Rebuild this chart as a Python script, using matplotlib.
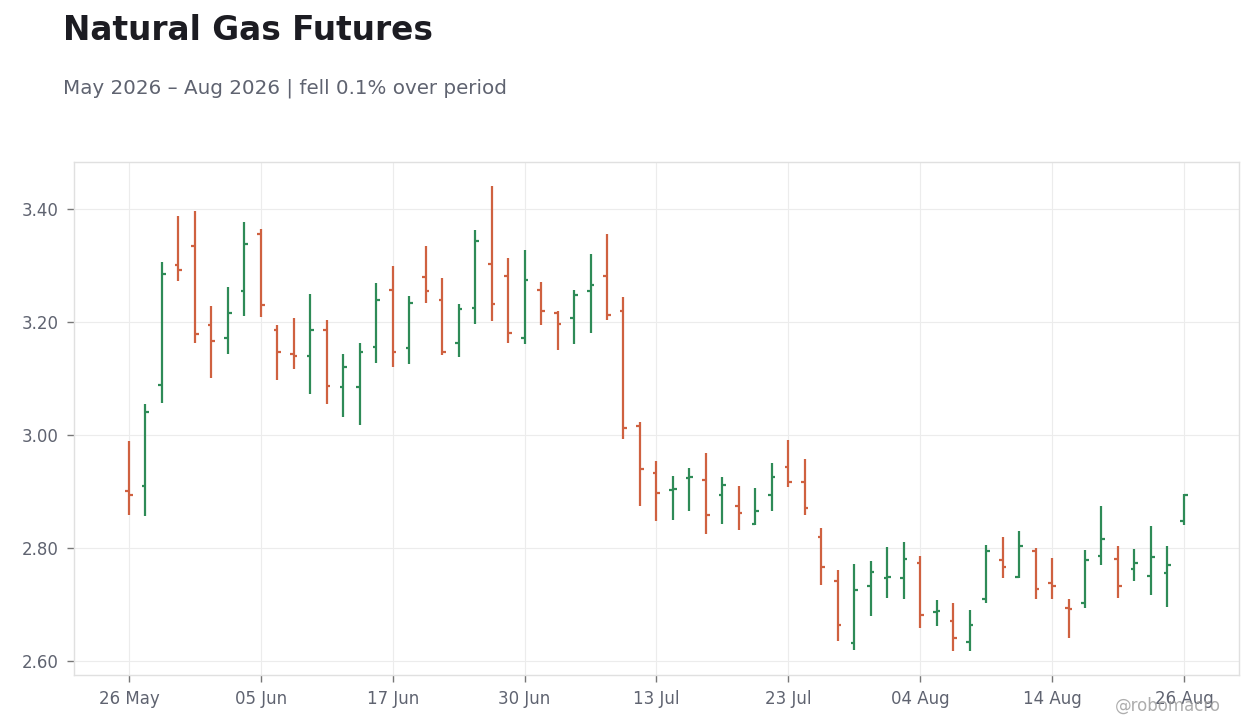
import numpy as np
import pandas as pd
import matplotlib
matplotlib.use("Agg")
import matplotlib.pyplot as plt

# trading days 26 May 2026 - 26 Aug 2026 (Juneteenth and 3 Jul closed)
dates = pd.bdate_range("2026-05-26", "2026-08-26", freq="C",
                       holidays=["2026-06-19", "2026-07-03"])

opens = [2.901, 2.910, 3.089, 3.300, 3.335, 3.195, 3.172, 3.255, 3.356,
         3.186, 3.144, 3.139, 3.186, 3.085, 3.085, 3.156, 3.257, 3.154,
         3.280, 3.238, 3.162, 3.224, 3.303, 3.282, 3.172, 3.257, 3.215,
         3.206, 3.255, 3.282, 3.220, 3.016, 2.932, 2.903, 2.924, 2.921,
         2.894, 2.875, 2.843, 2.893, 2.944, 2.916, 2.820, 2.742, 2.632,
         2.733, 2.747, 2.746, 2.774, 2.687, 2.671, 2.634, 2.710, 2.779,
         2.749, 2.794, 2.737, 2.693, 2.703, 2.786, 2.781, 2.763, 2.751,
         2.755, 2.847]
highs = [2.989, 3.055, 3.306, 3.388, 3.396, 3.228, 3.262, 3.377, 3.365,
         3.195, 3.207, 3.250, 3.204, 3.143, 3.163, 3.269, 3.299, 3.246,
         3.335, 3.278, 3.232, 3.363, 3.441, 3.313, 3.327, 3.271, 3.219,
         3.257, 3.320, 3.356, 3.244, 3.023, 2.954, 2.927, 2.942, 2.968,
         2.926, 2.910, 2.906, 2.950, 2.991, 2.958, 2.835, 2.761, 2.772,
         2.777, 2.802, 2.811, 2.786, 2.708, 2.703, 2.690, 2.805, 2.819,
         2.830, 2.800, 2.782, 2.710, 2.796, 2.874, 2.804, 2.798, 2.839,
         2.804, 2.896]
lows = [2.858, 2.857, 3.057, 3.273, 3.162, 3.100, 3.144, 3.211, 3.209,
        3.098, 3.117, 3.073, 3.055, 3.032, 3.018, 3.128, 3.121, 3.126,
        3.234, 3.142, 3.137, 3.197, 3.202, 3.163, 3.160, 3.195, 3.151,
        3.160, 3.181, 3.204, 2.992, 2.875, 2.848, 2.850, 2.866, 2.824,
        2.843, 2.832, 2.840, 2.866, 2.907, 2.859, 2.735, 2.636, 2.620,
        2.680, 2.712, 2.710, 2.659, 2.661, 2.617, 2.618, 2.703, 2.746,
        2.747, 2.710, 2.710, 2.640, 2.693, 2.770, 2.712, 2.742, 2.717,
        2.696, 2.840]
closes = [2.894, 3.041, 3.285, 3.291, 3.179, 3.167, 3.215, 3.337, 3.229,
          3.147, 3.140, 3.186, 3.087, 3.121, 3.147, 3.239, 3.146, 3.234,
          3.254, 3.147, 3.222, 3.344, 3.232, 3.181, 3.275, 3.220, 3.197,
          3.247, 3.266, 3.213, 3.013, 2.940, 2.898, 2.905, 2.925, 2.858,
          2.912, 2.861, 2.866, 2.926, 2.917, 2.871, 2.767, 2.663, 2.726,
          2.758, 2.748, 2.781, 2.682, 2.689, 2.641, 2.663, 2.795, 2.767,
          2.804, 2.728, 2.733, 2.691, 2.778, 2.815, 2.733, 2.774, 2.783,
          2.770, 2.893]

up_color = "#2e8b57"
down_color = "#cf6140"
text_dark = "#1c1c22"
text_gray = "#5f6370"

o = np.array(opens)
h = np.array(highs)
l = np.array(lows)
c = np.array(closes)
x = np.arange(len(o))
colors = np.where(c >= o, up_color, down_color)

fig = plt.figure(figsize=(12.6, 7.28), dpi=100, facecolor="white")
ax = fig.add_axes([0.0587, 0.0728, 0.9246, 0.7047])
ax.set_facecolor("white")

tick_w = 0.22
ax.vlines(x, l, h, colors=colors, linewidth=1.6, zorder=3)
ax.hlines(o, x - tick_w, x, colors=colors, linewidth=1.6, zorder=3)
ax.hlines(c, x, x + tick_w, colors=colors, linewidth=1.6, zorder=3)

ax.set_xlim(-3.34, 67.34)
ax.set_ylim(2.575, 3.483)

ticks = x[::8]
ax.set_xticks(ticks)
ax.set_xticklabels([d.strftime("%d %b") for d in dates[ticks]])
ax.set_yticks([2.6, 2.8, 3.0, 3.2, 3.4])
ax.set_yticklabels([f"{v:.2f}" for v in [2.6, 2.8, 3.0, 3.2, 3.4]])

ax.grid(True, color="#ececec", linewidth=0.8, zorder=0)
for s in ax.spines.values():
    s.set_color("#e0e0e0")
    s.set_linewidth(1.0)
ax.tick_params(axis="both", colors="#777777", labelcolor=text_gray,
               labelsize=12, length=5, width=1)
ax.tick_params(axis="x", pad=6)
ax.tick_params(axis="y", pad=6)

fig.text(0.05, 0.945, "Natural Gas Futures", fontsize=23.6, fontweight="bold",
         color=text_dark, ha="left", va="baseline")
fig.text(0.05, 0.872, "May 2026 – Aug 2026 | fell 0.1% over period",
         fontsize=14.3, color=text_gray, ha="left", va="baseline")
fig.text(0.969, 0.024, "@robomacro", fontsize=12, color="#999999",
         alpha=0.8, ha="right", va="baseline")

fig.savefig("out.png", dpi=100, facecolor=fig.get_facecolor())
